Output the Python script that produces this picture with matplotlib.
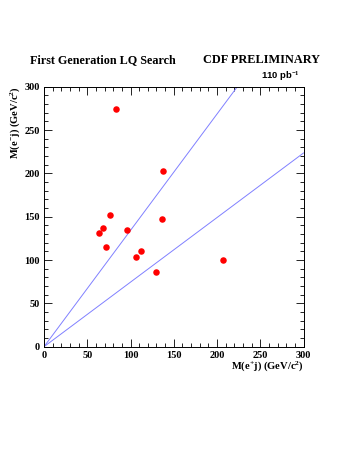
import matplotlib
matplotlib.use('Agg')
import matplotlib.pyplot as plt
from matplotlib.ticker import MultipleLocator

# M(e+j), M(e-j) of candidate events
m_eplus_j = [82.7, 138, 76.5, 68, 63.5, 96, 136.5, 72, 112, 106, 130, 206.5]
m_eminus_j = [274, 203, 152, 137, 131.5, 135, 147, 115, 110, 103, 86, 100]
cut_slopes = [1/0.745, 0.745]   # mass-window cut lines through origin

plt.rcParams['font.family'] = ['Liberation Serif', 'DejaVu Serif']
plt.rcParams['mathtext.fontset'] = 'custom'
plt.rcParams['mathtext.rm'] = 'Liberation Serif:bold'
plt.rcParams['mathtext.it'] = 'Liberation Serif:bold'
plt.rcParams['mathtext.bf'] = 'Liberation Serif:bold'

fig = plt.figure(figsize=(3.58, 4.63), dpi=100)
ax = fig.add_axes([44/358, 1-346.7/463, 259.5/358, 260/463])

xs = [0, 300]
for s in cut_slopes:
    ax.plot(xs, [x*s for x in xs], color='#8080ff', lw=0.7)
ax.scatter(m_eplus_j, m_eminus_j, s=22, c='red', zorder=3, linewidths=0)

ax.set_xlim(0, 300)
ax.set_ylim(0, 300)
ax.xaxis.set_major_locator(MultipleLocator(50))
ax.yaxis.set_major_locator(MultipleLocator(50))
ax.xaxis.set_minor_locator(MultipleLocator(10))
ax.yaxis.set_minor_locator(MultipleLocator(10))
ax.tick_params(which='both', direction='in', top=True, right=True, labelsize=7.5, width=0.6)
ax.tick_params(axis='x', pad=3)
ax.tick_params(axis='y', pad=3)
ax.tick_params(which='major', length=6)
ax.tick_params(which='minor', length=3)
for lab in ax.get_xticklabels() + ax.get_yticklabels():
    lab.set_fontweight('bold')
for sp in ax.spines.values():
    sp.set_linewidth(0.7)

fig.text(30/358, 1-60/463, 'First Generation LQ Search', fontsize=8.7, fontweight='bold', va='center')
fig.text(320/358, 1-60/463, 'CDF PRELIMINARY', fontsize=8.8, fontweight='bold', va='center', ha='right')
fig.text(300/358, 1-76/463, r'110 pb$^{-1}$', fontsize=6.8, fontweight='bold', va='center', ha='right',
         family='Liberation Sans')
fig.text(304/358, 1-366/463, r'M(e$^{+}$j) (GeV/c$^{2}$)', fontsize=7.6, fontweight='bold', ha='right', va='center')
fig.text(15/358, 1-86/463, r'M(e$^{-}$j) (GeV/c$^{2}$)', fontsize=7.6, fontweight='bold', rotation=90,
         ha='center', va='top')

fig.savefig('out.png', dpi=100)
